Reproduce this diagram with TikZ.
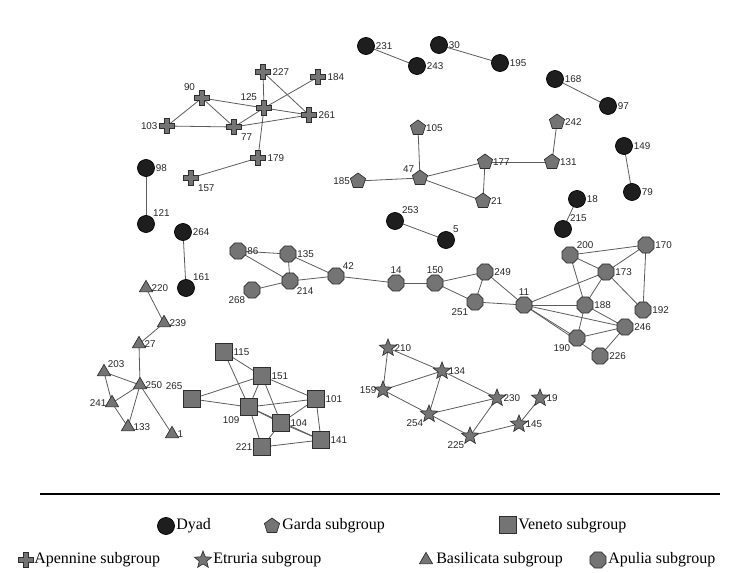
\documentclass[tikz,border=0pt]{standalone}
\usepackage{fontspec}
\setmainfont{Liberation Serif}
\newfontfamily\numfont{Liberation Sans}
\usetikzlibrary{shapes.geometric, backgrounds}

\definecolor{dyadblack}{HTML}{1E1E1E}
\definecolor{nodegray}{HTML}{747474}
\definecolor{nodeedge}{HTML}{2E2E2E}
\definecolor{linkgray}{HTML}{5C5C5C}

\tikzset{
  base/.style={draw=nodeedge, fill=nodegray, line width=0.5pt, inner sep=0pt},
  dyad/.style={base, circle, fill=dyadblack, draw=black, minimum size=12.8pt},
  garda/.style={base, regular polygon, regular polygon sides=5, minimum size=12pt},
  veneto/.style={base, rectangle, minimum size=12.5pt},
  apulia/.style={base, regular polygon, regular polygon sides=8, minimum size=13pt},
  basil/.style={base, regular polygon, regular polygon sides=3, minimum size=11.5pt},
  etru/.style={base, star, star points=5, star point ratio=2.3, minimum size=13.5pt},
  apen/.style={circle, minimum size=12.5pt, inner sep=0pt,
    path picture={\filldraw[fill=nodegray, draw=nodeedge, line width=0.5pt]
      ([shift={(-2pt,-5.7pt)}]path picture bounding box.center) -- ++(4pt,0) -- ++(0,3.7pt)
      -- ++(3.7pt,0) -- ++(0,4pt) -- ++(-3.7pt,0) -- ++(0,3.7pt) -- ++(-4pt,0)
      -- ++(0,-3.7pt) -- ++(-3.7pt,0) -- ++(0,-4pt) -- ++(3.7pt,0) -- cycle;}},
  link/.style={draw=linkgray, line width=0.6pt},
  every label/.style={font=\numfont\fontsize{7.4}{8}\selectfont, inner sep=0.5pt, text=black!85},
  label distance=0pt,
  legtext/.style={font=\fontsize{12}{14}\selectfont, anchor=west, inner sep=0pt}
}

\begin{document}
\begin{tikzpicture}[x=0.75pt,y=0.75pt,yscale=-1]
\path[use as bounding box] (0,0) rectangle (741,573);

% Apennine subgroup
\node[apen, label=right:227] (p227) at (263,72) {};
\node[apen, label=right:184] (p184) at (318,77) {};
\node[apen, label=above left:90] (p90) at (202,98) {};
\node[apen, label=above left:125] (p125) at (264,108) {};
\node[apen, label=right:261] (p261) at (309,115) {};
\node[apen, label=left:103] (p103) at (167,126) {};
\node[apen, label=below right:77] (p77) at (234,127) {};
\node[apen, label=right:179] (p179) at (258,158) {};
\node[apen, label=below right:157] (p157) at (191,178) {};

% Dyads
\node[dyad, label=right:231] (d231) at (366,46) {};
\node[dyad, label=right:243] (d243) at (417,66) {};
\node[dyad, label=right:30] (d30) at (439,45) {};
\node[dyad, label=right:195] (d195) at (500,63) {};
\node[dyad, label=right:168] (d168) at (555,79) {};
\node[dyad, label=right:97] (d97) at (608,106) {};
\node[dyad, label=right:149] (d149) at (624,146) {};
\node[dyad, label=right:79] (d79) at (632,192) {};
\node[dyad, label=right:98] (d98) at (146,168) {};
\node[dyad, label=above right:121] (d121) at (146,224) {};
\node[dyad, label=right:264] (d264) at (183,232) {};
\node[dyad, label=above right:161] (d161) at (186,288) {};
\node[dyad, label=above right:253] (d253) at (395,221) {};
\node[dyad, label=above right:5] (d5) at (446,240) {};
\node[dyad, label=right:18] (d18) at (577,199) {};
\node[dyad, label=above right:215] (d215) at (563,229) {};

% Garda subgroup
\node[garda, label=right:105] (g105) at (418,128) {};
\node[garda, label=right:242] (g242) at (557,122) {};
\node[garda, label=left:185] (g185) at (358,181) {};
\node[garda, label=above left:47] (g47) at (420,178) {};
\node[garda, label=right:177] (g177) at (485,162) {};
\node[garda, label=right:131] (g131) at (552,162) {};
\node[garda, label=right:21] (g21) at (483,201) {};

% Apulia subgroup
\node[apulia, label=right:86] (a86) at (238,251) {};
\node[apulia, label=right:135] (a135) at (288,254) {};
\node[apulia, label=below right:214] (a214) at (290,281) {};
\node[apulia, label=below left:268] (a268) at (252,290) {};
\node[apulia, label=above right:42] (a42) at (336,276) {};
\node[apulia, label=above:14] (a14) at (396,283) {};
\node[apulia, label=above:150] (a150) at (435,283) {};
\node[apulia, label=right:249] (a249) at (485,272) {};
\node[apulia, label=below left:251] (a251) at (475,302) {};
\node[apulia, label=above:11] (a11) at (524,305) {};
\node[apulia, label=above right:200] (a200) at (570,255) {};
\node[apulia, label=right:170] (a170) at (646,245) {};
\node[apulia, label=right:173] (a173) at (606,272) {};
\node[apulia, label=right:188] (a188) at (585,305) {};
\node[apulia, label=right:192] (a192) at (643,310) {};
\node[apulia, label=right:246] (a246) at (625,327) {};
\node[apulia, label=below left:190] (a190) at (577,338) {};
\node[apulia, label=right:226] (a226) at (600,356) {};

% Basilicata subgroup
\node[basil, label=right:220] (b220) at (146,288) {};
\node[basil, label=right:239] (b239) at (164,323) {};
\node[basil, label=right:27] (b27) at (139,344) {};
\node[basil, label=above right:203] (b203) at (104,372) {};
\node[basil, label=right:250] (b250) at (140,385) {};
\node[basil, label=left:241] (b241) at (112,403) {};
\node[basil, label=right:133] (b133) at (128,427) {};
\node[basil, label=right:1] (b1) at (172,434) {};

% Veneto subgroup
\node[veneto, label=right:115] (v115) at (224,352) {};
\node[veneto, label=right:151] (v151) at (262,376) {};
\node[veneto, label=above left:265] (v265) at (192,399) {};
\node[veneto, label=below left:109] (v109) at (249,407) {};
\node[veneto, label=right:101] (v101) at (316,399) {};
\node[veneto, label=right:104] (v104) at (281,423) {};
\node[veneto, label=right:141] (v141) at (321,440) {};
\node[veneto, label=left:221] (v221) at (262,447) {};

% Etruria subgroup
\node[etru, label=right:210] (e210) at (388,348) {};
\node[etru, label=right:134] (e134) at (442,371) {};
\node[etru, label=left:159] (e159) at (383,390) {};
\node[etru, label=right:230] (e230) at (497,398) {};
\node[etru, label=right:19] (e19) at (540,398) {};
\node[etru, label=below left:254] (e254) at (429,414) {};
\node[etru, label=right:145] (e145) at (519,424) {};
\node[etru, label=below left:225] (e225) at (470,436) {};

\begin{scope}[on background layer]
% Apennine ties
\draw[link] (p90.center) -- (p103.center);
\draw[link] (p90.center) -- (p77.center);
\draw[link] (p90.center) -- (p125.center);
\draw[link] (p103.center) -- (p77.center);
\draw[link] (p77.center) -- (p125.center);
\draw[link] (p77.center) -- (p261.center);
\draw[link] (p125.center) -- (p261.center);
\draw[link] (p125.center) -- (p184.center);
\draw[link] (p125.center) -- (p227.center);
\draw[link] (p125.center) -- (p179.center);
\draw[link] (p227.center) -- (p261.center);
\draw[link] (p157.center) -- (p179.center);
% Dyad ties
\draw[link] (d231.center) -- (d243.center);
\draw[link] (d30.center) -- (d195.center);
\draw[link] (d168.center) -- (d97.center);
\draw[link] (d149.center) -- (d79.center);
\draw[link] (d98.center) -- (d121.center);
\draw[link] (d264.center) -- (d161.center);
\draw[link] (d253.center) -- (d5.center);
\draw[link] (d18.center) -- (d215.center);
% Garda ties
\draw[link] (g105.center) -- (g47.center);
\draw[link] (g185.center) -- (g47.center);
\draw[link] (g47.center) -- (g177.center);
\draw[link] (g47.center) -- (g21.center);
\draw[link] (g177.center) -- (g21.center);
\draw[link] (g177.center) -- (g131.center);
\draw[link] (g131.center) -- (g242.center);
% Apulia ties
\draw[link] (a86.center) -- (a135.center);
\draw[link] (a86.center) -- (a214.center);
\draw[link] (a135.center) -- (a214.center);
\draw[link] (a135.center) -- (a42.center);
\draw[link] (a268.center) -- (a214.center);
\draw[link] (a214.center) -- (a42.center);
\draw[link] (a42.center) -- (a14.center);
\draw[link] (a14.center) -- (a150.center);
\draw[link] (a150.center) -- (a249.center);
\draw[link] (a150.center) -- (a251.center);
\draw[link] (a249.center) -- (a251.center);
\draw[link] (a249.center) -- (a11.center);
\draw[link] (a251.center) -- (a11.center);
\draw[link] (a11.center) -- (a173.center);
\draw[link] (a11.center) -- (a188.center);
\draw[link] (a11.center) -- (a246.center);
\draw[link] (a11.center) -- (a190.center);
\draw[link] (a11.center) -- (a226.center);
\draw[link] (a200.center) -- (a170.center);
\draw[link] (a200.center) -- (a173.center);
\draw[link] (a200.center) -- (a188.center);
\draw[link] (a170.center) -- (a173.center);
\draw[link] (a170.center) -- (a192.center);
\draw[link] (a173.center) -- (a188.center);
\draw[link] (a173.center) -- (a192.center);
\draw[link] (a188.center) -- (a190.center);
\draw[link] (a188.center) -- (a246.center);
\draw[link] (a190.center) -- (a246.center);
\draw[link] (a246.center) -- (a226.center);
% Basilicata ties
\draw[link] (b220.center) -- (b239.center);
\draw[link] (b239.center) -- (b27.center);
\draw[link] (b27.center) -- (b250.center);
\draw[link] (b203.center) -- (b250.center);
\draw[link] (b203.center) -- (b241.center);
\draw[link] (b241.center) -- (b250.center);
\draw[link] (b241.center) -- (b133.center);
\draw[link] (b250.center) -- (b133.center);
\draw[link] (b250.center) -- (b1.center);
% Veneto ties
\draw[link] (v115.center) -- (v151.center);
\draw[link] (v115.center) -- (v109.center);
\draw[link] (v151.center) -- (v265.center);
\draw[link] (v151.center) -- (v109.center);
\draw[link] (v151.center) -- (v104.center);
\draw[link] (v151.center) -- (v101.center);
\draw[link] (v265.center) -- (v109.center);
\draw[link] (v109.center) -- (v101.center);
\draw[link] (v109.center) -- (v104.center);
\draw[link] (v109.center) -- (v141.center);
\draw[link] (v109.center) -- (v221.center);
\draw[link] (v104.center) -- (v101.center);
\draw[link] (v104.center) -- (v221.center);
\draw[link] (v104.center) -- (v141.center);
\draw[link] (v101.center) -- (v141.center);
\draw[link] (v221.center) -- (v141.center);
% Etruria ties
\draw[link] (e210.center) -- (e159.center);
\draw[link] (e210.center) -- (e134.center);
\draw[link] (e134.center) -- (e230.center);
\draw[link] (e159.center) -- (e134.center);
\draw[link] (e159.center) -- (e254.center);
\draw[link] (e134.center) -- (e254.center);
\draw[link] (e254.center) -- (e230.center);
\draw[link] (e254.center) -- (e225.center);
\draw[link] (e230.center) -- (e225.center);
\draw[link] (e225.center) -- (e145.center);
\draw[link] (e145.center) -- (e19.center);
\end{scope}

% Rule above the key
\draw[line width=0.8pt] (40,494) -- (720,494);

% Key, first row
\node[dyad] (keyDyad) at (166,526) {};
\node[legtext] (keyDyadTxt) at (176,526) {Dyad};
\node[garda] (keyGarda) at (272,526) {};
\node[legtext] (keyGardaTxt) at (282,526) {Garda subgroup};
\node[veneto] (keyVeneto) at (508,525) {};
\node[legtext] (keyVenetoTxt) at (518,526) {Veneto subgroup};
% Key, second row
\node[apen] (keyApen) at (26,560) {};
\node[legtext] (keyApenTxt) at (34,560) {Apennine subgroup};
\node[etru] (keyEtru) at (203,560) {};
\node[legtext] (keyEtruTxt) at (213,560) {Etruria subgroup};
\node[basil] (keyBasil) at (426,560) {};
\node[legtext] (keyBasilTxt) at (436,560) {Basilicata subgroup};
\node[apulia] (keyApulia) at (598,560) {};
\node[legtext] (keyApuliaTxt) at (608,560) {Apulia subgroup};

\end{tikzpicture}
\end{document}
